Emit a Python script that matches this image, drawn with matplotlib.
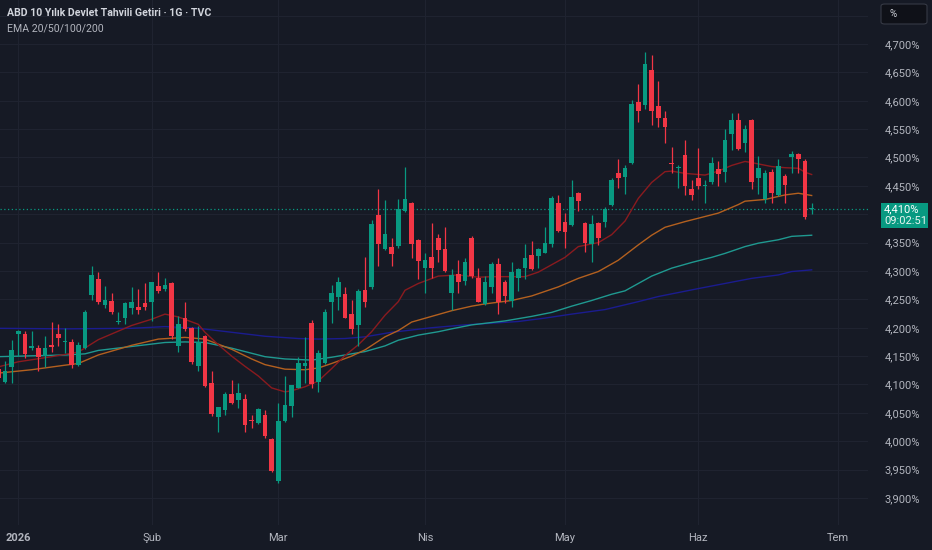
import matplotlib
matplotlib.use("Agg")
import matplotlib.pyplot as plt
from matplotlib.patches import Rectangle, FancyBboxPatch
import numpy as np

plt.rcParams['font.family'] = ['Roboto', 'DejaVu Sans']

# ---------------- data ----------------
opens = [4.128, 4.104, 4.130, 4.189, 4.189, 4.165, 4.165, 4.150, 4.169, 4.189,
         4.175, 4.175, 4.134, 4.164, 4.257, 4.286, 4.240, 4.247, 4.210, 4.217,
         4.234, 4.237, 4.243, 4.245, 4.274, 4.268, 4.278, 4.167, 4.218, 4.199,
         4.133, 4.185, 4.102, 4.042, 4.055, 4.083, 4.072, 4.074, 4.038, 4.032,
         4.047, 4.004, 3.930, 4.035, 4.062, 4.094, 4.133, 4.208, 4.105, 4.137,
         4.246, 4.255, 4.259, 4.224, 4.204, 4.266, 4.272, 4.399, 4.338, 4.342,
         4.344, 4.405, 4.419, 4.355, 4.306, 4.325, 4.359, 4.338, 4.262, 4.295,
         4.283, 4.359, 4.288, 4.241, 4.272, 4.312, 4.280, 4.247, 4.287, 4.306,
         4.328, 4.327, 4.332, 4.348, 4.420, 4.386, 4.381, 4.437, 4.385, 4.347,
         4.385, 4.387, 4.416, 4.472, 4.466, 4.490, 4.597, 4.592, 4.655, 4.591,
         4.570, 4.491, 4.481, 4.504, 4.444, 4.464, 4.450, 4.457, 4.479, 4.475,
         4.541, 4.566, 4.525, 4.566, 4.463, 4.427, 4.475, 4.434, 4.467, 4.500,
         4.507, 4.493, 4.409]
highs = [4.132, 4.142, 4.178, 4.196, 4.194, 4.194, 4.170, 4.185, 4.210, 4.206,
         4.199, 4.181, 4.174, 4.231, 4.309, 4.298, 4.274, 4.261, 4.227, 4.246,
         4.271, 4.269, 4.278, 4.281, 4.298, 4.287, 4.280, 4.221, 4.246, 4.202,
         4.203, 4.187, 4.123, 4.061, 4.087, 4.108, 4.102, 4.083, 4.047, 4.058,
         4.055, 4.005, 4.067, 4.115, 4.099, 4.149, 4.183, 4.214, 4.161, 4.233,
         4.275, 4.289, 4.272, 4.248, 4.269, 4.325, 4.390, 4.444, 4.425, 4.359,
         4.426, 4.483, 4.422, 4.357, 4.332, 4.384, 4.365, 4.378, 4.303, 4.319,
         4.322, 4.362, 4.305, 4.291, 4.315, 4.322, 4.284, 4.315, 4.306, 4.347,
         4.353, 4.340, 4.377, 4.433, 4.434, 4.402, 4.460, 4.440, 4.386, 4.399,
         4.387, 4.413, 4.463, 4.497, 4.487, 4.601, 4.629, 4.685, 4.681, 4.634,
         4.582, 4.518, 4.487, 4.531, 4.461, 4.516, 4.461, 4.501, 4.493, 4.550,
         4.578, 4.578, 4.557, 4.567, 4.503, 4.478, 4.479, 4.498, 4.471, 4.511,
         4.508, 4.498, 4.419]
lows = [4.107, 4.102, 4.103, 4.150, 4.146, 4.161, 4.123, 4.130, 4.158, 4.168,
        4.156, 4.129, 4.133, 4.163, 4.248, 4.241, 4.234, 4.224, 4.207, 4.207,
        4.225, 4.224, 4.231, 4.211, 4.262, 4.265, 4.180, 4.157, 4.195, 4.136,
        4.124, 4.096, 4.045, 4.017, 4.047, 4.066, 4.058, 4.017, 4.024, 4.030,
        4.005, 3.945, 3.926, 4.034, 4.043, 4.094, 4.103, 4.093, 4.086, 4.136,
        4.208, 4.232, 4.217, 4.189, 4.168, 4.237, 4.268, 4.308, 4.337, 4.308,
        4.340, 4.404, 4.322, 4.285, 4.261, 4.287, 4.316, 4.298, 4.231, 4.261,
        4.275, 4.287, 4.245, 4.240, 4.261, 4.225, 4.243, 4.237, 4.264, 4.285,
        4.302, 4.305, 4.331, 4.343, 4.368, 4.340, 4.379, 4.406, 4.334, 4.315,
        4.346, 4.377, 4.414, 4.446, 4.436, 4.488, 4.563, 4.585, 4.557, 4.554,
        4.526, 4.473, 4.447, 4.434, 4.425, 4.444, 4.420, 4.453, 4.449, 4.457,
        4.513, 4.514, 4.510, 4.444, 4.436, 4.419, 4.419, 4.433, 4.419, 4.473,
        4.472, 4.392, 4.400]
closes = [4.111, 4.124, 4.161, 4.194, 4.154, 4.168, 4.148, 4.165, 4.166, 4.182,
          4.177, 4.134, 4.170, 4.227, 4.293, 4.245, 4.249, 4.228, 4.212, 4.243,
          4.246, 4.231, 4.236, 4.280, 4.265, 4.276, 4.186, 4.207, 4.198, 4.139,
          4.174, 4.098, 4.048, 4.061, 4.083, 4.068, 4.085, 4.029, 4.036, 4.056,
          4.009, 3.948, 4.036, 4.064, 4.099, 4.138, 4.137, 4.101, 4.156, 4.227,
          4.261, 4.281, 4.218, 4.198, 4.264, 4.246, 4.382, 4.348, 4.366, 4.330,
          4.410, 4.426, 4.348, 4.318, 4.320, 4.306, 4.337, 4.300, 4.293, 4.281,
          4.315, 4.291, 4.246, 4.281, 4.313, 4.246, 4.256, 4.298, 4.303, 4.323,
          4.303, 4.339, 4.349, 4.428, 4.371, 4.369, 4.431, 4.423, 4.349, 4.383,
          4.358, 4.410, 4.461, 4.463, 4.481, 4.595, 4.582, 4.665, 4.582, 4.570,
          4.553, 4.489, 4.483, 4.450, 4.434, 4.450, 4.452, 4.490, 4.471, 4.531,
          4.566, 4.515, 4.551, 4.457, 4.481, 4.472, 4.437, 4.485, 4.451, 4.507,
          4.497, 4.396, 4.410]

ema20_idx = [0, 3, 8, 12, 15, 20, 23, 25, 27, 30, 31, 33, 35, 37, 39, 41, 43, 44, 46, 48,
             50, 52, 54, 56, 58, 60, 61, 63, 66, 69, 72, 74, 79, 81, 85, 87, 90, 92, 94, 96,
             98, 100, 101, 103, 106, 108, 110, 112, 113, 116, 118, 120, 121, 122]
ema20_val = [4.131, 4.140, 4.149, 4.157, 4.179, 4.204, 4.215, 4.224, 4.219, 4.206, 4.192,
             4.170, 4.150, 4.132, 4.115, 4.094, 4.087, 4.089, 4.096, 4.106, 4.128, 4.151,
             4.170, 4.193, 4.222, 4.246, 4.266, 4.278, 4.291, 4.293, 4.289, 4.290, 4.290,
             4.298, 4.324, 4.343, 4.350, 4.364, 4.388, 4.428, 4.456, 4.475, 4.476, 4.472,
             4.469, 4.476, 4.486, 4.493, 4.491, 4.484, 4.482, 4.481, 4.474, 4.470]

ema50_idx = [0, 5, 10, 12, 15, 20, 24, 28, 31, 35, 38, 40, 43, 46, 48, 50, 53, 55, 58, 60,
             62, 65, 68, 71, 73, 77, 80, 82, 84, 87, 90, 93, 96, 98, 100, 103, 105, 108,
             111, 112, 115, 118, 120, 122]
ema50_val = [4.120, 4.126, 4.134, 4.137, 4.152, 4.169, 4.180, 4.183, 4.180, 4.162, 4.145,
             4.135, 4.127, 4.126, 4.129, 4.137, 4.150, 4.161, 4.184, 4.195, 4.210, 4.220,
             4.230, 4.238, 4.242, 4.248, 4.256, 4.264, 4.272, 4.287, 4.299, 4.319, 4.346,
             4.363, 4.377, 4.387, 4.393, 4.402, 4.417, 4.423, 4.426, 4.434, 4.437, 4.433]

ema100_idx = [0, 10, 13, 15, 20, 25, 28, 31, 35, 40, 43, 47, 50, 53, 55, 58, 60, 63, 66,
              68, 71, 76, 80, 83, 86, 89, 92, 94, 96, 98, 101, 104, 107, 109, 112, 114,
              117, 119, 122]
ema100_val = [4.149, 4.152, 4.154, 4.160, 4.167, 4.174, 4.175, 4.174, 4.164, 4.149, 4.145,
              4.143, 4.148, 4.154, 4.158, 4.168, 4.178, 4.187, 4.193, 4.198, 4.205, 4.212,
              4.220, 4.227, 4.238, 4.248, 4.259, 4.265, 4.278, 4.291, 4.305, 4.315, 4.324,
              4.331, 4.343, 4.349, 4.355, 4.361, 4.363]

ema200_idx = [0, 10, 20, 25, 30, 35, 40, 45, 48, 52, 55, 59, 62, 65, 68, 70, 74, 78, 82,
              86, 91, 96, 99, 102, 105, 109, 113, 117, 119, 122]
ema200_val = [4.199, 4.198, 4.199, 4.202, 4.199, 4.192, 4.185, 4.181, 4.180, 4.181, 4.184,
              4.192, 4.196, 4.200, 4.203, 4.205, 4.208, 4.211, 4.217, 4.224, 4.232, 4.246,
              4.255, 4.262, 4.269, 4.278, 4.287, 4.293, 4.299, 4.302]

month_pos = [3, 23, 42, 64, 85, 105, 126]
month_labels = ['2026', 'Şub', 'Mar', 'Nis', 'May', 'Haz', 'Tem']

price_ticks = [3.90, 3.95, 4.00, 4.05, 4.10, 4.15, 4.20, 4.25, 4.30, 4.35, 4.40,
               4.45, 4.50, 4.55, 4.60, 4.65, 4.70, 4.75]
hidden_ticks = [4.40, 4.75]   # covered by the price tag / unit box
last_price = 4.410
countdown = '09:02:51'

# ---------------- style ----------------
BG = '#161a25'
GRID = '#1f2330'
UP = '#089981'
DOWN = '#f23645'
TXT = '#b2b5be'

W, H = 932, 550
fig = plt.figure(figsize=(W / 100, H / 100), dpi=100, facecolor=BG)
ax = fig.add_axes([0, 25 / H, 868 / W, 525 / H], facecolor=BG)

n = len(opens)
x = np.arange(n)
o = np.array(opens); h = np.array(highs); l = np.array(lows); c = np.array(closes)
up = c >= o
cols = np.where(up, UP, DOWN)

# grid
for p in price_ticks:
    ax.axhline(p, color=GRID, lw=0.8, zorder=0)
for m in month_pos:
    ax.axvline(m, color=GRID, lw=0.8, zorder=0)

# EMAs
ax.plot(ema200_idx, ema200_val, color='#1b1c8f', lw=1.0, zorder=2)
ax.plot(ema100_idx, ema100_val, color='#1f9990', lw=1.0, zorder=2)
ax.plot(ema50_idx, ema50_val, color='#b3601f', lw=1.0, zorder=2)
ax.plot(ema20_idx, ema20_val, color='#8a1a1f', lw=1.0, zorder=2)

# candles
ax.vlines(x, l, h, colors=cols, lw=0.9, zorder=3)
bottoms = np.minimum(o, c)
heights = np.maximum(np.abs(c - o), 0.0018)
ax.bar(x, heights, bottom=bottoms, width=0.66, color=cols, linewidth=0, zorder=4)

# last price dotted line
ax.axhline(last_price, color=UP, lw=0.9, ls=(0, (1, 2)), zorder=1)

ax.set_xlim(0.255, 130.45)
ax.set_ylim(3.8524, 4.7775)

ax.yaxis.tick_right()
ax.set_yticks(price_ticks)
ax.set_yticklabels(['' if any(abs(p - q) < 1e-6 for q in hidden_ticks)
                    else f"{p:.3f}".replace('.', ',') + '%' for p in price_ticks])
ax.set_xticks(month_pos)
ax.set_xticklabels(month_labels)
ax.tick_params(axis='y', length=0, pad=12, labelsize=8, labelcolor=TXT)
ax.tick_params(axis='x', length=0, pad=6, labelsize=8, labelcolor=TXT)
for lab in ax.get_xticklabels():
    if lab.get_text() == '2026':
        lab.set_fontweight('bold')
for s in ax.spines.values():
    s.set_visible(False)

# price label box
fig.patches.append(Rectangle((881 / W, 1 - 228 / H), 47 / W, 25 / H,
                             transform=fig.transFigure, facecolor=UP, edgecolor='none',
                             zorder=5))
fig.text(884 / W, 1 - 209.5 / H, f"{last_price:.3f}".replace('.', ',') + '%',
         color='white', fontsize=8, va='center', ha='left', zorder=6)
fig.text(884 / W, 1 - 221 / H, countdown, color='#e8f5f1', fontsize=8,
         va='center', ha='left', zorder=6)

# "%" box top right
fig.patches.append(FancyBboxPatch((881 / W, 1 - 24 / H), 46 / W, 20 / H,
                                  boxstyle='round,pad=0,rounding_size=0.004',
                                  transform=fig.transFigure, facecolor='#0f1118',
                                  edgecolor='#363a45', lw=0.8, zorder=5))
fig.text(889 / W, 1 - 14 / H, '%', color='#d1d4dc', fontsize=7, va='center', ha='left',
         zorder=6)

# header
fig.text(7 / W, 1 - 13 / H, 'ABD 10 Yılık Devlet Tahvili Getiri · 1G · TVC',
         color='#d1d4dc', fontsize=7.6, fontweight='bold', va='center', ha='left')
fig.text(7 / W, 1 - 28 / H, 'EMA 20/50/100/200', color='#b2b5be', fontsize=7.6,
         va='center', ha='left')

fig.savefig('out.png', dpi=100, facecolor=BG)
